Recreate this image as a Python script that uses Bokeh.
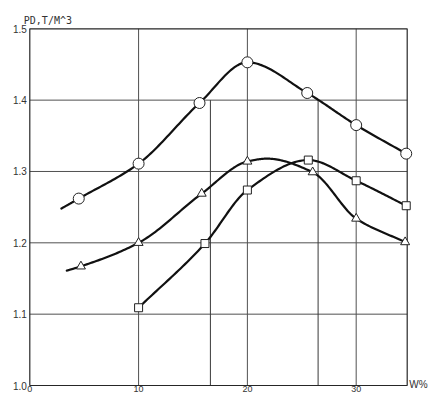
import numpy as np
from bokeh.plotting import figure
from bokeh.models import Range1d
from bokeh.core.properties import value
from bokeh.embed import file_html
from bokeh.resources import INLINE

# ---- data ----
circle_x = [4.5, 10.0, 15.6, 20.0, 25.5, 30.0, 34.6]
circle_y = [1.262, 1.311, 1.396, 1.453, 1.410, 1.365, 1.325]
circle_curve_start = [2.9, 1.248]

tri_x = [4.7, 10.0, 15.8, 20.0, 26.0, 30.0, 34.5]
tri_y = [1.167, 1.200, 1.269, 1.314, 1.299, 1.234, 1.201]
tri_curve_start = [3.4, 1.161]
tri_curve_peak = [21.8, 1.318]

sq_x = [10.0, 16.1, 20.0, 25.6, 30.0, 34.6]
sq_y = [1.109, 1.199, 1.274, 1.316, 1.287, 1.252]

ref_lines_x = [16.6, 26.5]
ref_lines_top = 1.4

x_ticks = [0, 10, 20, 30]
x_tick_labels = ["0", "10", "20", "30"]
x_grid = [10, 20, 30]
y_ticks = [1.0, 1.1, 1.2, 1.3, 1.4, 1.5]
y_tick_labels = ["1.0", "1.1", "1.2", "1.3", "1.4", "1.5"]
y_grid = [1.1, 1.2, 1.3, 1.4]
x_min, x_max = 0.0, 34.69
y_min, y_max = 1.0, 1.5
y_title = "PD,T/M^3"
x_title = "W%"


def smooth(xs, ys, n=30):
    """Monotone cubic (PCHIP) rendering of the hand-drawn smooth curve through the points."""
    xs = np.asarray(xs, float)
    ys = np.asarray(ys, float)
    h = np.diff(xs)
    d = np.diff(ys) / h
    m = np.zeros_like(ys)
    for k in range(1, len(xs) - 1):
        if d[k - 1] * d[k] > 0:
            w1 = 2 * h[k] + h[k - 1]
            w2 = h[k] + 2 * h[k - 1]
            m[k] = (w1 + w2) / (w1 / d[k - 1] + w2 / d[k])
    m[0] = d[0]
    m[-1] = d[-1]
    ox, oy = [], []
    for i in range(len(xs) - 1):
        t = np.linspace(0, 1, n, endpoint=(i == len(xs) - 2))
        h00 = 2 * t**3 - 3 * t**2 + 1
        h10 = t**3 - 2 * t**2 + t
        h01 = -2 * t**3 + 3 * t**2
        h11 = t**3 - t**2
        ox.extend(xs[i] + t * h[i])
        oy.extend(h00 * ys[i] + h10 * h[i] * m[i] + h01 * ys[i + 1] + h11 * h[i] * m[i + 1])
    return ox, oy


W, H = 428, 394
# plot box position inside the canvas (pixels)
box_l, box_r, box_t, box_b = 29.3, 406.7, 28.3, 385.0
sx = (x_max - x_min) / (box_r - box_l)
sy = (y_max - y_min) / (box_b - box_t)
xr = Range1d(x_min - box_l * sx, x_max + (W - box_r) * sx)
yr = Range1d(y_min - (H - box_b) * sy, y_max + box_t * sy)

p = figure(width=W, height=H, x_range=xr, y_range=yr,
           output_backend="svg", toolbar_location=None,
           min_border_left=0, min_border_right=0, min_border_top=0, min_border_bottom=0)
p.axis.visible = False
p.grid.visible = False
p.outline_line_color = None
p.background_fill_color = "white"
p.border_fill_color = "white"

grid_col = "#505050"
# grid lines
p.segment(x0=x_grid, y0=[y_min] * len(x_grid), x1=x_grid, y1=[y_max] * len(x_grid),
          line_color=grid_col, line_width=1)
p.segment(x0=[x_min] * len(y_grid), y0=y_grid, x1=[x_max] * len(y_grid), y1=y_grid,
          line_color=grid_col, line_width=1)
# extra vertical reference lines
p.segment(x0=ref_lines_x, y0=[y_min] * len(ref_lines_x), x1=ref_lines_x,
          y1=[ref_lines_top] * len(ref_lines_x), line_color="#383838", line_width=1)
# plot box
p.quad(left=[x_min], right=[x_max], bottom=[y_min], top=[y_max],
       fill_color=None, line_color="#262626", line_width=1.2)

# curves
cx, cy = smooth([circle_curve_start[0]] + circle_x, [circle_curve_start[1]] + circle_y)
tpx = [tri_curve_start[0]] + tri_x[:4] + [tri_curve_peak[0]] + tri_x[4:]
tpy = [tri_curve_start[1]] + tri_y[:4] + [tri_curve_peak[1]] + tri_y[4:]
tx, ty = smooth(tpx, tpy)
qx, qy = smooth(sq_x, sq_y)
for xx, yy in ((cx, cy), (tx, ty), (qx, qy)):
    p.line(xx, yy, line_color="#111111", line_width=2.2, line_join="round", line_cap="round")

p.scatter(circle_x, circle_y, marker="circle", size=11, fill_color="white",
          line_color="#222222", line_width=1)
p.scatter(tri_x, tri_y, marker="triangle", size=9, fill_color="white",
          line_color="#222222", line_width=1)
p.scatter(sq_x, sq_y, marker="square", size=8, fill_color="white",
          line_color="#222222", line_width=1)

txt_col = "#333333"
# y tick labels
p.text(x=[x_min] * len(y_ticks), y=y_ticks, text=y_tick_labels, x_offset=-3,
       text_align="right", text_baseline="middle", text_font=value("Liberation Sans"),
       text_font_size="10px", text_color=txt_col)
# x tick labels
p.text(x=x_ticks, y=[y_min] * len(x_ticks), text=x_tick_labels, y_offset=0,
       text_align="center", text_baseline="top", text_font=value("Liberation Sans"),
       text_font_size="9px", text_color=txt_col)
# axis titles
p.text(x=[x_min], y=[y_max], text=[y_title], x_offset=-6, y_offset=-8,
       text_align="left", text_baseline="alphabetic", text_font=value("DejaVu Sans Mono"),
       text_font_size="10px", text_color=txt_col)
p.text(x=[x_max], y=[y_min], text=[x_title], x_offset=2, y_offset=-1,
       text_align="left", text_baseline="alphabetic", text_font=value("Liberation Sans"),
       text_font_size="10px", text_color=txt_col)

open("out.html", "w").write(file_html(p, INLINE))
